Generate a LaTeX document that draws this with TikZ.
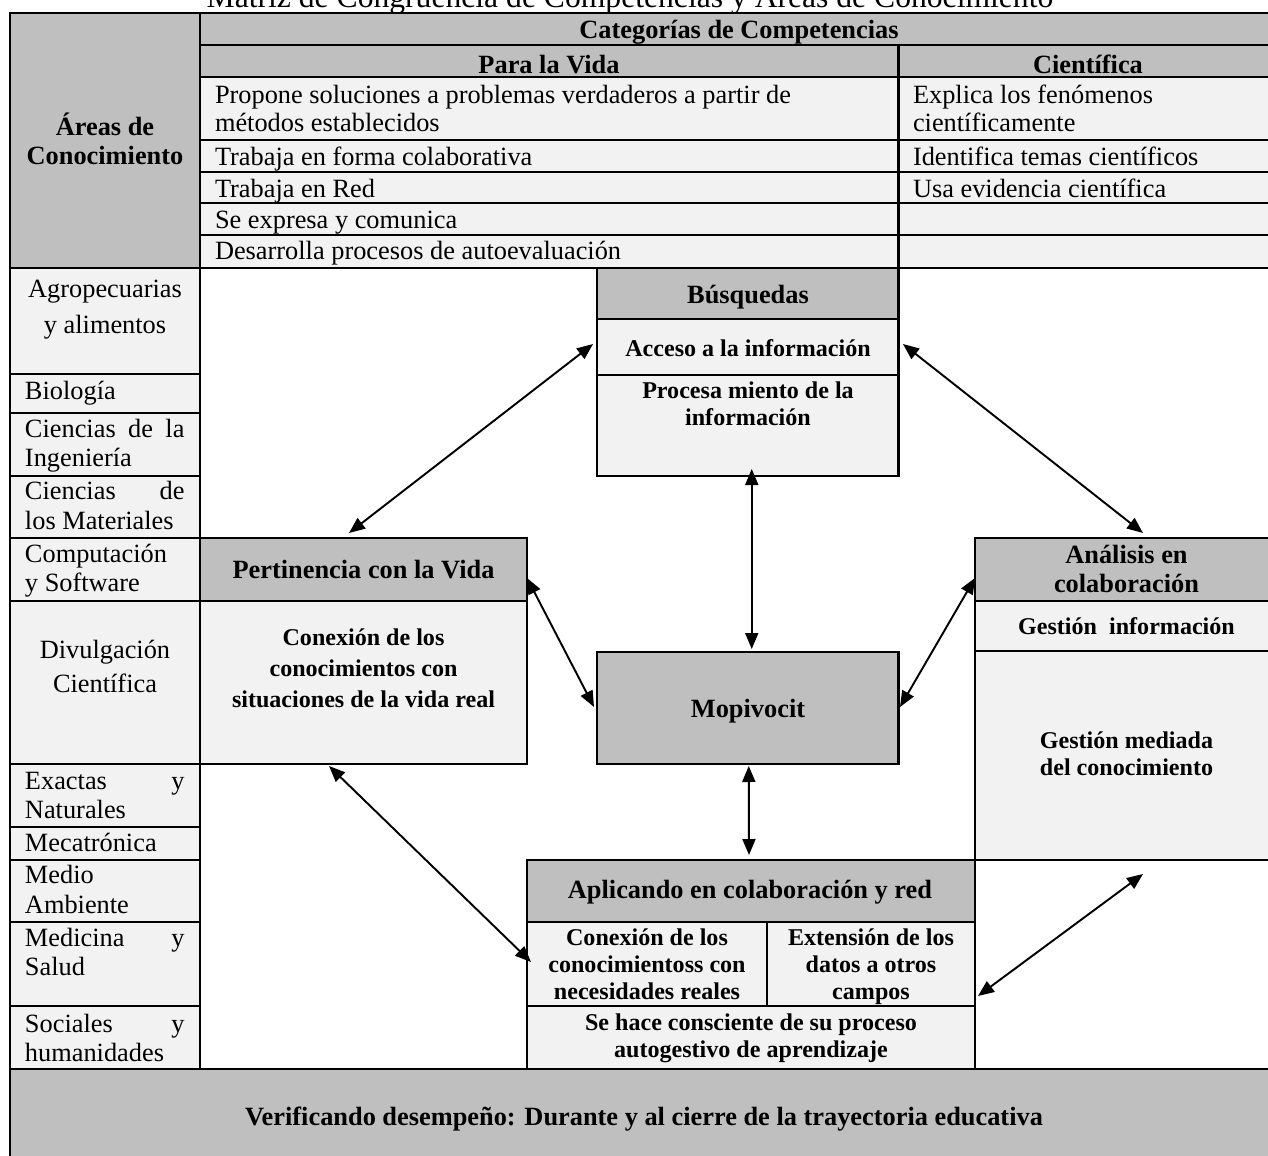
\documentclass[tikz,border=0pt]{standalone}
\usepackage{fontspec}
\setmainfont{Liberation Serif}
\usetikzlibrary{fit,arrows.meta,calc}

\definecolor{hdrgray}{HTML}{BFBFBF}
\definecolor{cellgray}{HTML}{F2F2F2}

% font helpers: size fixed, baselineskip given
\newcommand\regfont[1]{\fontsize{15}{#1}\selectfont}
\newcommand\boldfont[1]{\fontsize{15}{#1}\selectfont\bfseries}
\newcommand\subfont[1]{\fontsize{13.7}{#1}\selectfont\bfseries}
% stacked lines, baseline on the first one
\newcommand\textrows[2][l]{\begin{tabular}[t]{@{}#1@{}}#2\end{tabular}}
% justified line across the left column
\newcommand\spreadline[1]{\makebox[3.19cm][s]{#1}}

\tikzset{
  rule/.style={draw=black, line width=1.4pt, inner sep=0pt, outer sep=0pt},
  hdr/.style={rule, fill=hdrgray, fit={#1}},
  cell/.style={rule, fill=cellgray, fit={#1}},
  txt/.style={inner sep=0pt, outer sep=0pt},
  link/.style={<->, >={Triangle[length=0.32cm,width=0.26cm]}, line width=1.1pt},
}

\begin{document}
\begin{tikzpicture}[x=0.02cm, y=-0.02cm]
\useasboundingbox (0,0) rectangle (1268,1156);
\clip (0,0) rectangle (1268,1156);
\fill[white] (0,0) rectangle (1268,1156);

% title
\node[txt, anchor=base, font=\fontsize{18}{20}\selectfont] (title) at (630,8)
  {Matriz de Congruencia de Competencias y Áreas de Conocimiento};

% ---------- header block ----------
\node[hdr={(10,13) (200,268)}] (careas) {};
\node[hdr={(200,13) (1278,45)}] (ccat) {};
\node[hdr={(200,45) (898.5,77)}] (cvida) {};
\node[hdr={(898.5,45) (1278,77)}] (ccien) {};
\foreach \t/\b [count=\i] in {77/140,140/172,172/203,203/235,235/268} {
  \node[cell={(200,\t) (898.5,\b)}] (vida\i) {};
  \node[cell={(898.5,\t) (1278,\b)}] (cien\i) {};
}

% ---------- knowledge areas column ----------
\foreach \t/\b [count=\i] in {268/374,374/413,413/476,476/538,538/601,601/764,764/827,827/860,860/922,922/1006,1006/1069} {
  \node[cell={(10,\t) (200,\b)}] (area\i) {};
}

% ---------- model boxes ----------
\node[hdr={(597,268) (898.5,319)}] (busq) {};
\node[cell={(597,319) (898.5,375)}] (acc) {};
\node[cell={(597,375) (898.5,476)}] (proc) {};

\node[hdr={(200,538) (527,601)}] (perth) {};
\node[cell={(200,601) (527,764)}] (pertb) {};

\node[hdr={(597,652) (898.5,764)}] (mop) {};

\node[hdr={(975,538) (1278,601)}] (analh) {};
\node[cell={(975,601) (1278,651)}] (gest) {};
\node[cell={(975,651) (1278,860)}] (gmed) {};

\node[hdr={(527,860) (975,922)}] (aplh) {};
\node[cell={(527,922) (767,1006)}] (conn) {};
\node[cell={(767,922) (975,1006)}] (ext) {};
\node[cell={(527,1006) (975,1069)}] (selfp) {};

\node[hdr={(10,1069) (1278,1170)}] (verif) {};

% ---------- header texts ----------
\node[txt, anchor=base, font=\boldfont{17}] (tcat) at (739,38) {Categorías de Competencias};
\node[txt, anchor=base, font=\boldfont{17}] (tvida) at (549,73) {Para la Vida};
\node[txt, anchor=base, font=\boldfont{17}] (tcien) at (1088,73) {Científica};
\node[txt, anchor=base, font=\boldfont{17}] (tareas) at (105,135) {\textrows[c]{Áreas de\\Conocimiento}};

\node[txt, anchor=base west, font=\regfont{16.5}] (tv1) at (215,103)
  {\textrows{Propone soluciones a problemas verdaderos a partir de\\métodos establecidos}};
\node[txt, anchor=base west, font=\regfont{16.5}] (tv2) at (215,165) {Trabaja en forma colaborativa};
\node[txt, anchor=base west, font=\regfont{16.5}] (tv3) at (215,197) {Trabaja en Red};
\node[txt, anchor=base west, font=\regfont{16.5}] (tv4) at (215,228) {Se expresa y comunica};
\node[txt, anchor=base west, font=\regfont{16.5}] (tv5) at (215,259) {Desarrolla procesos de autoevaluación};

\node[txt, anchor=base west, font=\regfont{16.5}] (tc1) at (913,103)
  {\textrows{Explica los fenómenos\\científicamente}};
\node[txt, anchor=base west, font=\regfont{16.5}] (tc2) at (913,165) {Identifica temas científicos};
\node[txt, anchor=base west, font=\regfont{16.5}] (tc3) at (913,197) {Usa evidencia científica};

% ---------- area texts ----------
\node[txt, anchor=base, font=\regfont{20.5}] (ta1) at (105,297) {\textrows[c]{Agropecuarias\\y alimentos}};
\node[txt, anchor=base west, font=\regfont{17}] (ta2) at (25,399) {Biología};
\node[txt, anchor=base west, font=\regfont{17}] (ta3) at (25,437) {\textrows{\spreadline{Ciencias de la}\\Ingeniería}};
\node[txt, anchor=base west, font=\regfont{17.6}] (ta4) at (25,499) {\textrows{\spreadline{Ciencias de}\\los Materiales}};
\node[txt, anchor=base west, font=\regfont{17}] (ta5) at (25,562) {\textrows{Computación\\y Software}};
\node[txt, anchor=base, font=\regfont{19.9}] (ta6) at (105,658) {\textrows[c]{Divulgación\\Científica}};
\node[txt, anchor=base west, font=\regfont{17}] (ta7) at (25,789) {\textrows{\spreadline{Exactas y}\\Naturales}};
\node[txt, anchor=base west, font=\regfont{17}] (ta8) at (25,851) {Mecatrónica};
\node[txt, anchor=base west, font=\regfont{17.6}] (ta9) at (25,883) {\textrows{Medio\\Ambiente}};
\node[txt, anchor=base west, font=\regfont{17}] (ta10) at (25,946) {\textrows{\spreadline{Medicina y}\\Salud}};
\node[txt, anchor=base west, font=\regfont{17}] (ta11) at (25,1032) {\textrows{\spreadline{Sociales y}\\humanidades}};

% ---------- box texts ----------
\node[txt, anchor=base, font=\boldfont{17}] (tbusq) at (748,303) {Búsquedas};
\node[txt, anchor=base, font=\subfont{15.6}] (tacc) at (748,356) {Acceso a la información};
\node[txt, anchor=base, font=\subfont{15.6}] (tproc) at (748,398) {\textrows[c]{Procesa miento de la\\información}};

\node[txt, anchor=base, font=\boldfont{17}] (tperth) at (363.5,578) {Pertinencia con la Vida};
\node[txt, anchor=base, font=\subfont{17.9}] (tpertb) at (363.5,645)
  {\textrows[c]{Conexión de los\\conocimientos con\\situaciones de la vida real}};

\node[txt, anchor=base, font=\boldfont{17}] (tmop) at (748,717) {Mopivocit};

\node[txt, anchor=base, font=\boldfont{17}] (tanal) at (1126.5,563) {\textrows[c]{Análisis en\\colaboración}};
\node[txt, anchor=base, font=\subfont{15.6}] (tgest) at (1126.5,634) {Gestión~~información};
\node[txt, anchor=base, font=\subfont{15.4}] (tgmed) at (1126.5,748) {\textrows[c]{Gestión mediada\\del conocimiento}};

\node[txt, anchor=base, font=\boldfont{17}] (taplh) at (750,898) {Aplicando en colaboración y red};
\node[txt, anchor=base, font=\subfont{15.4}] (tconn) at (647,945)
  {\textrows[c]{Conexión de los\\conocimientoss con\\necesidades reales}};
\node[txt, anchor=base, font=\subfont{15.4}] (text) at (871,945)
  {\textrows[c]{Extensión de los\\datos a otros\\campos}};
\node[txt, anchor=base, font=\subfont{15.4}] (tself) at (751,1030)
  {\textrows[c]{Se hace consciente de su proceso\\autogestivo de aprendizaje}};

\node[txt, anchor=base, font=\boldfont{17}] (tverif) at (644,1125)
  {Verificando desempeño: Durante y al cierre de la trayectoria educativa};

% ---------- connectors ----------
\coordinate (loose) at (1143,874);
\draw[link] ($(acc.west)+(-4,-3)$) -- ($(perth.north)+(-14.5,-5)$);
\draw[link] ($(acc.east)+(4.5,-3)$) -- ($(analh.north)+(16.5,-5)$);
\draw[link] ($(proc.south)+(4,-7)$) -- ($(mop.north)+(4,-3)$);
\draw[link] ($(perth.east)+(0,8.5)$) -- ($(mop.west)+(-3,-1)$);
\draw[link] ($(analh.west)+(0,8.5)$) -- ($(mop.east)+(1.5,-1)$);
\draw[link] ($(mop.south)+(1,2)$) -- ($(aplh.north)+(-2,-5)$);
\draw[link] ($(pertb.south)+(-34.5,2)$) -- ($(conn.west)+(4,-2)$);
\draw[link] ($(ext.south east)+(3,-10)$) -- (loose);
\end{tikzpicture}
\end{document}
